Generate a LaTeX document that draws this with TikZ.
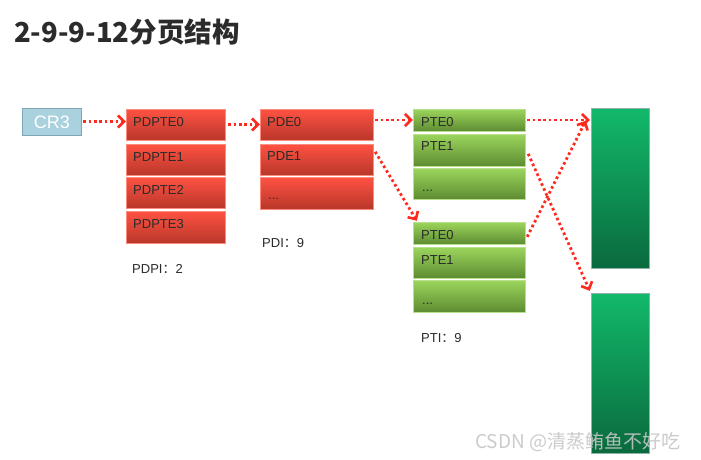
\documentclass[tikz,border=0pt]{standalone}
\usepackage{fontspec}
\setmainfont{Liberation Sans}
\newfontfamily\cjk{Noto Sans CJK SC}
\usetikzlibrary{arrows.meta}
\definecolor{redtop}{HTML}{FF5242}
\definecolor{redbot}{HTML}{B9372A}
\definecolor{redline}{HTML}{FF8A7E}
\definecolor{gtop}{HTML}{9CD65C}
\definecolor{gbot}{HTML}{5E8C32}
\definecolor{gline}{HTML}{B8E08C}
\definecolor{mtop}{HTML}{12B96A}
\definecolor{mbot}{HTML}{0A6A3E}
\definecolor{mline}{HTML}{8FB3AA}
\definecolor{crfill}{HTML}{A9D1DE}
\definecolor{crline}{HTML}{7FA6B6}
\definecolor{arrred}{HTML}{FF2A1E}
\definecolor{txt}{HTML}{2B2B2B}
\tikzset{
  redbox/.style={draw=redline, line width=0.6pt, top color=redtop, bottom color=redbot},
  greenbox/.style={draw=gline, line width=0.6pt, top color=gtop, bottom color=gbot},
  membox/.style={draw=mline, line width=1pt, top color=mtop, bottom color=mbot},
  lbl/.style={anchor=base west, inner sep=0pt, font=\fontsize{13}{15}\selectfont, text=txt},
  caplbl/.style={anchor=base west, inner sep=0pt, font=\fontsize{13}{15}\selectfont, text=txt},
  arr/.style={draw=arrred, line width=2.8pt, dash pattern=on 2.6pt off 2.8pt,
    -{Straight Barb[length=6pt,width=12pt,line width=2.6pt]}}
}
\begin{document}
\begin{tikzpicture}[x=1pt,y=-1pt]
\path[use as bounding box, fill=white] (0,0) rectangle (701,459);
% title
\node[anchor=base west, inner sep=0pt, font=\cjk\bfseries\fontsize{27.5}{31}\selectfont, text=txt] (title) at (14,42.5) {2-9-9-12分页结构};
% CR3
\path[draw=crline, line width=1pt, fill=crfill] (22,108) rectangle (81,135);
\node[inner sep=0pt, minimum width=59pt, minimum height=27pt] (cr3) at (51.5,121.5) {};
\node[anchor=base, inner sep=0pt, font=\fontsize{18}{20}\selectfont, text=white] (cr3t) at (52,128.5) {CR3};
% PDPTE column
\foreach \i/\t/\b in {0/109/140,1/144/175,2/177/208,3/211/243}{
  \path[redbox] (126,\t) rectangle (225,\b);
  \node[inner sep=0pt, minimum width=99pt, minimum height={\b-\t}] (pdpte\i) at (175.5,{(\t+\b)/2}) {};
  \node[lbl] (pdptet\i) at (133,\t+17) {PDPTE\i};
}
\node[caplbl] (pdpi) at (132,273) {PDPI{\cjk ：}2};
% PDE column
\foreach \i/\t/\b in {0/109/140,1/144/175,2/177/209}{
  \path[redbox] (260,\t) rectangle (373,\b);
  \node[inner sep=0pt, minimum width=113pt, minimum height={\b-\t}] (pde\i) at (316.5,{(\t+\b)/2}) {};
}
\node[lbl] (pdet0) at (267,126) {PDE0};
\node[lbl] (pdet1) at (267,160) {PDE1};
\node[lbl] (pdet2) at (268,199) {...};
\node[caplbl] (pdi) at (262,247) {PDI{\cjk ：}9};
% PTE column
\foreach \n/\t/\b in {A0/109/131,A1/134/166,A2/168/199,B0/222/244,B1/247/278,B2/280/312}{
  \path[greenbox] (413,\t) rectangle (525,\b);
  \node[inner sep=0pt, minimum width=112pt, minimum height={\b-\t}] (pte\n) at (469,{(\t+\b)/2}) {};
}
\node[lbl] (ptetA0) at (421,126) {PTE0};
\node[lbl] (ptetA1) at (421,150) {PTE1};
\node[lbl] (ptetA2) at (422,191) {...};
\node[lbl] (ptetB0) at (421,239) {PTE0};
\node[lbl] (ptetB1) at (421,264) {PTE1};
\node[lbl] (ptetB2) at (422,304) {...};
\node[caplbl] (pti) at (421,342) {PTI{\cjk ：}9};
% memory pages
\path[membox] (591,108) rectangle (649,268);
\node[inner sep=0pt, minimum width=58pt, minimum height=160pt] (memA) at (620,188) {};
\path[membox] (591,293) rectangle (649,453);
\node[inner sep=0pt, minimum width=58pt, minimum height=160pt] (memB) at (620,373) {};
% arrows (xshift/yshift are in page direction: negative yshift = down)
\draw[arr] ([xshift=2pt]cr3.east) -- (cr3.east -| pdpte0.west);
\draw[arr] ([xshift=3pt]pdpte0.east) -- (pdpte0.east -| pde0.west);
\draw[arr] ([xshift=2pt]pde0.east |- pteA0.west) -- (pteA0.west);
\draw[arr] ([xshift=2pt,yshift=-8pt]pde1.north east) -- ([xshift=4pt,yshift=1pt]pteB0.north west);
\draw[arr] ([xshift=2pt]pteA0.east) -- ([xshift=-1pt]pteA0.east -| memA.west);
\draw[arr] ([xshift=3pt,yshift=-20pt]pteA1.north east) -- ([xshift=-1pt,yshift=2pt]memB.north west);
\draw[arr] ([xshift=2pt,yshift=-15pt]pteB0.north east) -- ([xshift=-5pt,yshift=-13pt]memA.north west);
% watermark
\node[anchor=base west, inner sep=0pt, font=\cjk\fontsize{19}{21}\selectfont, text=white!55!gray, opacity=0.9] (wm) at (475,448) {CSDN @清蒸鲔鱼不好吃};
\end{tikzpicture}
\end{document}
